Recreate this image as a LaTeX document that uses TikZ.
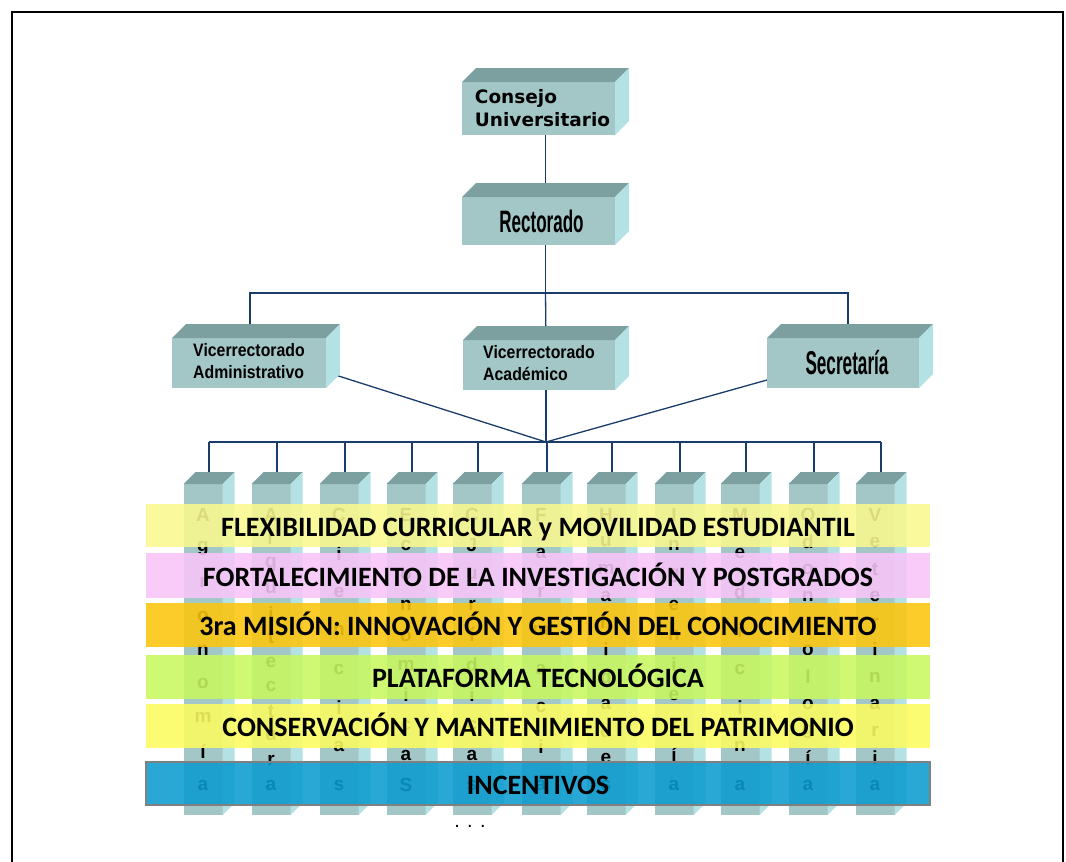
\documentclass[tikz,border=0pt]{standalone}
\usepackage{fontspec}
\setmainfont{Liberation Sans}
\newfontfamily\carl{Carlito}
\newfontfamily\dvs{DejaVu Sans}
\usetikzlibrary{calc,backgrounds}
\definecolor{topc}{HTML}{7C9FA0}
\definecolor{frontc}{HTML}{A3C6C7}
\definecolor{sidec}{HTML}{B4E2E4}
\definecolor{linec}{HTML}{1A3C6A}
\definecolor{bandA}{HTML}{F9F98E}
\definecolor{bandB}{HTML}{F8C4F8}
\definecolor{bandC}{HTML}{FCC50C}
\definecolor{bandD}{HTML}{C8F760}
\definecolor{bandE}{HTML}{FCFC60}
\definecolor{bandF}{HTML}{0B9BCF}
\newcommand\boxfaces[2]{%
  \fill[topc] (#1.north west) -- ++(#2,-#2) -- ($(#1.north east)+(#2,-#2)$) -- (#1.north east) -- cycle;
  \fill[sidec] (#1.north east) -- ++(#2,-#2) -- ($(#1.south east)+(#2,-#2)$) -- (#1.south east) -- cycle;
}
\tikzset{
  box/.style={fill=frontc, inner sep=0pt, outer sep=0pt},
  colbox/.style={fill=frontc, inner sep=0pt, outer sep=0pt, minimum width=39pt, minimum height=331pt},
  conn/.style={draw=linec, line width=1.3pt},
  letter/.style={inner sep=0pt, font=\bfseries\fontsize{19}{19}\selectfont},
  band/.style={inner sep=0pt, minimum width=784pt, fill opacity=0.88, text opacity=1,
    font=\carl\bfseries\fontsize{28}{30}\selectfont, text height=21pt, text depth=0pt},
}
\begin{document}
\begin{tikzpicture}[x=1pt,y=-1pt]
\useasboundingbox (0,0) rectangle (1066,862);
\draw[line width=1.2pt] (12,862) -- (12,12) -- (1063,12) -- (1063,862);

% top boxes
\node[box, minimum width=153pt, minimum height=53pt, font=\dvs\bfseries\fontsize{18.5}{23}\selectfont, align=left] (cu) at (538.5,108.5) {\hspace*{8pt}Consejo\\\hspace*{8pt}Universitario};
\node[box, minimum width=153pt, minimum height=48pt] (rec) at (538.5,221) {\hspace*{6pt}\fontsize{31}{33}\selectfont\bfseries\scalebox{0.55}[1]{Rectorado}};
\node[box, minimum width=154pt, minimum height=50pt] (va) at (249,363) {\fontsize{18}{22}\selectfont\bfseries\scalebox{0.88}[1]{\begin{tabular}{@{}l@{}}Vicerrectorado\\Administrativo\end{tabular}}};
\node[box, minimum width=152pt, minimum height=50pt] (ac) at (539,365) {\fontsize{18}{22}\selectfont\bfseries\scalebox{0.88}[1]{\begin{tabular}{@{}l@{}}Vicerrectorado\\Académico\end{tabular}}};
\node[box, minimum width=152pt, minimum height=50pt] (sec) at (843,363) {\hspace*{8pt}\fontsize{33}{35}\selectfont\bfseries\scalebox{0.52}[1]{Secretaría}};
\boxfaces{cu}{14}
\boxfaces{rec}{14}
\boxfaces{va}{14}
\boxfaces{ac}{14}
\boxfaces{sec}{14}

% columns
\foreach \i/\cx/\n/\word in {
  1/203/9/{A,g,r,o,n,o,m,í,a},
  2/271/12/{A,r,q,u,i,t,e,c,t,u,r,a},
  3/339/8/{C,i,e,n,c,i,a,s},
  4/406/10/{E,c,o,n,ó,m,i,c,a,S},
  5/472/10/{C,J,u,r,í,d,i,c,a,s},
  6/541/8/{F,a,r,m,a,c,i,a},
  7/606/11/{H,u,m,a,n,i,d,a,d,e,s},
  8/674/10/{I,n,g,e,n,i,e,r,í,a},
  9/740/8/{M,e,d,i,c,i,n,a},
  10/808/11/{O,d,o,n,t,o,l,o,g,í,a},
  11/875/11/{V,e,t,e,r,i,n,a,r,i,a}} {
  \node[colbox] (c\i) at (\cx,649.5) {};
  \boxfaces{c\i}{12}
  \foreach \l [count=\k from 0] in \word {
    \node[letter] (l\i-\k) at (\cx,{515+\k*270/(\n-1)}) {\l};
  }
  \coordinate (t\i) at ($(c\i.north)+(6,0)$);
}

% connectors
\begin{pgfonlayer}{background}
\coordinate (cuB) at ($(cu.south)+(7,0)$);
\coordinate (recT) at ($(rec.north)+(7,0)$);
\coordinate (recB) at ($(rec.south)+(7,0)$);
\coordinate (tb) at ($(rec.south)+(7,48)$);
\coordinate (vaT) at ($(va.north)+(1,0)$);
\coordinate (acT) at ($(ac.north)+(7,0)$);
\coordinate (acB) at ($(ac.south)+(7,0)$);
\coordinate (secT) at ($(sec.north)+(5,0)$);
\coordinate (hub) at ($(ac.south)+(7,52)$);
\draw[conn] (cuB) -- (recT);
\draw[conn] (recB) -- (tb);
\draw[conn] (vaT) |- (tb) -| (secT);
\draw[conn] (tb) -- (acT);
\draw[conn] (acB) -- (hub);
\draw[conn] ($(va.south east)+(0,-16)$) -- (hub);
\draw[conn] ($(sec.south west)+(0,-8)$) -- (hub);
\draw[conn] (t1 |- hub) -- (t11 |- hub);
\foreach \i in {1,...,11} { \draw[conn] (t\i) -- (t\i |- hub); }
\end{pgfonlayer}

% bands
\node[band, fill=bandA, minimum height=43pt] (b1) at (538,525.5) {FLEXIBILIDAD CURRICULAR y MOVILIDAD ESTUDIANTIL};
\node[band, fill=bandB, minimum height=45pt] (b2) at (538,575.5) {FORTALECIMIENTO DE LA INVESTIGACIÓN Y POSTGRADOS};
\node[band, fill=bandC, minimum height=44pt] (b3) at (538,625) {3ra MISIÓN: INNOVACIÓN Y GESTIÓN DEL CONOCIMIENTO};
\node[band, fill=bandD, minimum height=44pt] (b4) at (538,677) {PLATAFORMA TECNOLÓGICA};
\node[band, fill=bandE, minimum height=44pt] (b5) at (538,726) {CONSERVACIÓN Y MANTENIMIENTO DEL PATRIMONIO};
\node[band, fill=bandF, minimum height=43pt, draw=gray, draw opacity=1, line width=1.5pt] (b6) at (538,783.5) {INCENTIVOS};
\node[font=\fontsize{20}{20}\selectfont] (dots) at (470,826) {. . .};
\end{tikzpicture}
\end{document}
